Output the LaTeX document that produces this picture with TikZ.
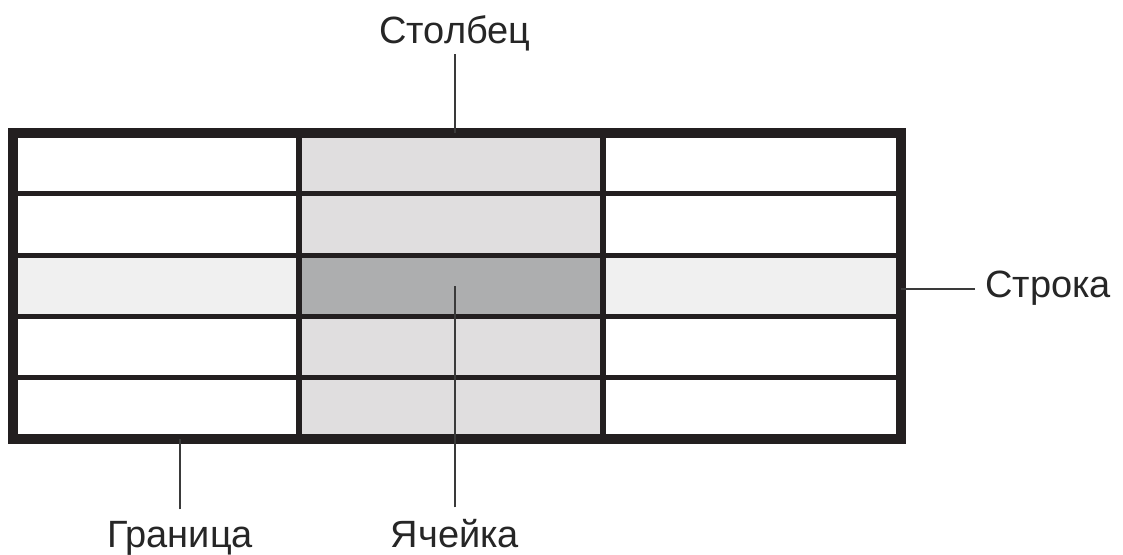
\documentclass[tikz,border=0pt]{standalone}
\usepackage{fontspec}
\setmainfont{Liberation Sans}
\usepackage{xcolor}
\definecolor{l_gray}{HTML}{E0DEDF}
\definecolor{ll_gray}{HTML}{F0F0F0}
\definecolor{d_gray}{HTML}{ADAEAF}
\definecolor{d_line}{HTML}{231F20}
\definecolor{d_lead}{HTML}{3A3A3A}

\begin{document}
\begin{tikzpicture}[x=0.5pt,y=-0.5pt,
  cell/.style={draw=d_line, line width=2.6pt, anchor=north west, minimum height=30.65pt, inner sep=0pt, outer sep=0pt},
  lbl/.style={font=\fontsize{19pt}{22pt}\selectfont, inner sep=0pt, text=black!85},
  lead/.style={draw=d_lead, line width=1.3pt}]
\useasboundingbox (0,0) rectangle (1123,554);

\foreach \r/\side/\mid in {1/white/l_gray, 2/white/l_gray, 3/ll_gray/d_gray, 4/white/l_gray, 5/white/l_gray}
{
\node[cell, fill=\side, minimum width=143pt] (c\r1) at (13,{132.5+(\r-1)*61.3}) {};
\node[cell, fill=\mid, minimum width=152pt] (c\r2) at (299,{132.5+(\r-1)*61.3}) {};
\node[cell, fill=\side, minimum width=149pt] (c\r3) at (603,{132.5+(\r-1)*61.3}) {};
}

\draw[d_line, line width=5pt] (c11.north west) rectangle (c53.south east);

\node[lbl, anchor=base] (stolbec) at (455,43) {Столбец};
\node[lbl, anchor=base west] (stroka) at (985,297) {Строка};
\node[lbl, anchor=base] (granica) at (180,547) {Граница};
\node[lbl, anchor=base] (yacheika) at (455,547) {Ячейка};

\coordinate (top) at (455,132.5);
\coordinate (side) at (901,289);
\coordinate (bot) at (180,439);

\draw[lead] ([yshift=-5.5pt]stolbec.base) -- (top);
\draw[lead] ([xshift=-5pt,yshift=4pt]stroka.base west) -- (side);
\draw[lead] ([yshift=5.5pt]granica.north) -- (bot);
\draw[lead] ([yshift=5.5pt]yacheika.north) -- (yacheika.north |- c32.center);

\end{tikzpicture}
\end{document}
